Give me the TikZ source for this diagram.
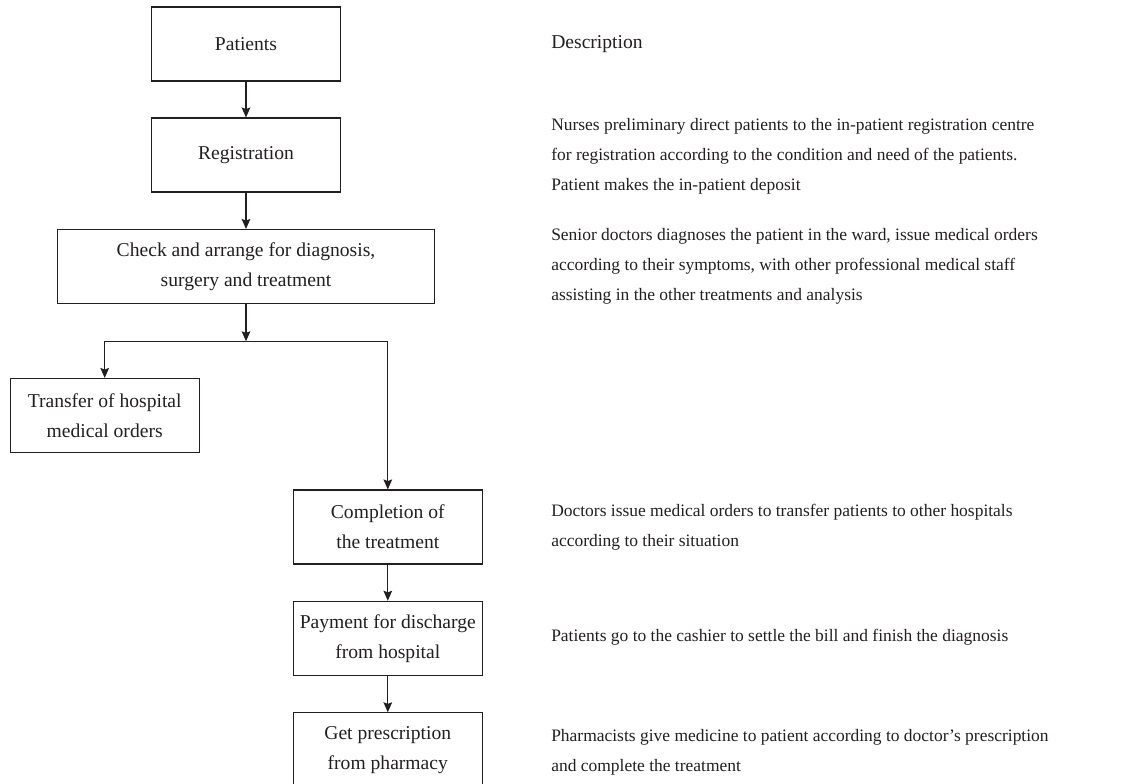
\documentclass[tikz,border=0pt]{standalone}
\usepackage{fontspec}
\setmainfont{Liberation Serif}
\usetikzlibrary{arrows.meta}
\definecolor{ink}{RGB}{35,31,32}
\begin{document}
\begin{tikzpicture}[x=0.75pt,y=-0.75pt,
  box/.style={draw=ink,line width=0.8pt,text=ink,align=center,inner sep=0pt,
    minimum width=141.75pt,minimum height=55.5pt,
    font=\fontsize{14.7}{22.5}\selectfont},
  wide/.style={box,minimum width=282.75pt},
  desc/.style={anchor=west,align=left,text=ink,inner sep=0pt,
    font=\fontsize{13.1}{22.5}\selectfont},
  head/.style={desc,font=\fontsize{14.7}{22.5}\selectfont},
  arr/.style={draw=ink,line width=0.8pt,-{Stealth[length=7.5pt,width=6.5pt,inset=1.2pt]}}]
\useasboundingbox (0,0) rectangle (1125,784);
\node[box] (pat) at (246,44) {Patients};
\node[box] (reg) at (246,155) {Registration};
\node[wide] (chk) at (246,266.5) {Check and arrange for diagnosis,\\surgery and treatment};
\coordinate (br) at (246,341.3);
\node[box] (trn) at (104.7,415.5) {Transfer of hospital\\medical orders};
\node[box] (cmp) at (387.8,527) {Completion of\\the treatment};
\node[box] (pay) at (387.8,638.3) {Payment for discharge\\from hospital};
\node[box] (get) at (387.8,749.8) {Get prescription\\from pharmacy};

\draw[arr] (pat) -- (reg);
\draw[arr] (reg) -- (chk);
\draw[arr] (chk) -- (br);
\draw[arr] (br) -| (trn.north);
\draw[arr] (br) -| (cmp.north);
\draw[arr] (cmp) -- (pay);
\draw[arr] (pay) -- (get);

\node[head] (d0) at (551,44) {Description};
\node[desc] (d1) at (551,156.7) {Nurses preliminary direct patients to the in-patient registration centre\\for registration according to the condition and need of the patients.\\Patient makes the in-patient deposit};
\node[desc] (d2) at (551,266.7) {Senior doctors diagnoses the patient in the ward, issue medical orders\\according to their symptoms, with other professional medical staff\\assisting in the other treatments and analysis};
\node[desc] (d3) at (551,527) {Doctors issue medical orders to transfer patients to other hospitals\\according to their situation};
\node[desc] (d4) at (551,637.5) {Patients go to the cashier to settle the bill and finish the diagnosis};
\node[desc] (d5) at (551,752) {Pharmacists give medicine to patient according to doctor’s prescription\\and complete the treatment};
\end{tikzpicture}
\end{document}
